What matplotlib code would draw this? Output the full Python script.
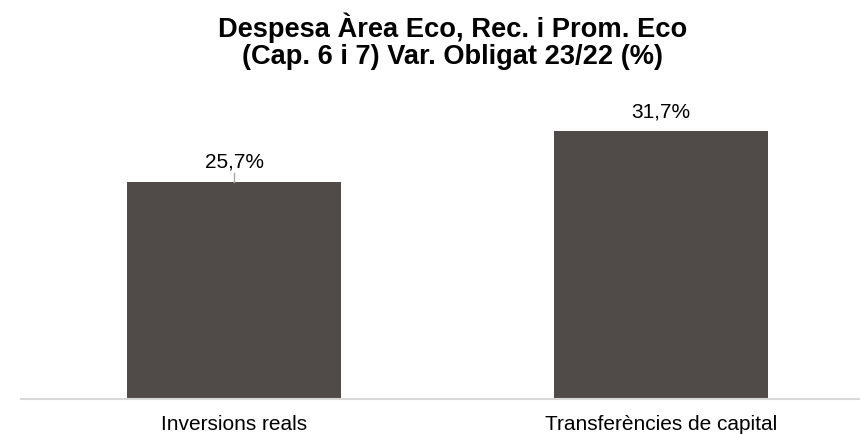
import matplotlib
matplotlib.use("Agg")
import matplotlib.pyplot as plt

categories = ["Inversions reals", "Transferències de capital"]
values = [25.7, 31.7]
title = "Despesa Àrea Eco, Rec. i Prom. Eco\n(Cap. 6 i 7) Var. Obligat 23/22 (%)"

BAR = "#504b49"
plt.rcParams["font.family"] = ["Liberation Sans", "DejaVu Sans"]

fig = plt.figure(figsize=(8.6, 4.35), dpi=100)
ax = fig.add_axes([21 / 860, 0.0805, 1 - 21 / 860, 0.680])
x = range(len(categories))
ax.bar(x, values, width=0.501, color=BAR)
ax.set_xlim(-0.499, 1.466)
ax.set_ylim(0, 35)
for s in ("top", "right", "left"):
    ax.spines[s].set_visible(False)
ax.spines["bottom"].set_color("#d9d9d9")
ax.spines["bottom"].set_linewidth(1.5)
ax.set_yticks([])
ax.set_xticks(list(x))
ax.set_xticklabels(categories, fontsize=15)
ax.tick_params(axis="x", length=0, pad=11)

for i, v in enumerate(values):
    ax.text(i, v + 2.4, f"{v:.1f}%".replace(".", ","), ha="center", va="center", fontsize=15)
# leader line on the first label
ax.plot([0, 0], [values[0], values[0] + 1.0], color="#a6a6a6", lw=1)

fig.text(0.526, 0.906, title, ha="center", va="center", fontsize=19.6, fontweight="bold",
         linespacing=1.05)
fig.savefig("out.png", dpi=100)
